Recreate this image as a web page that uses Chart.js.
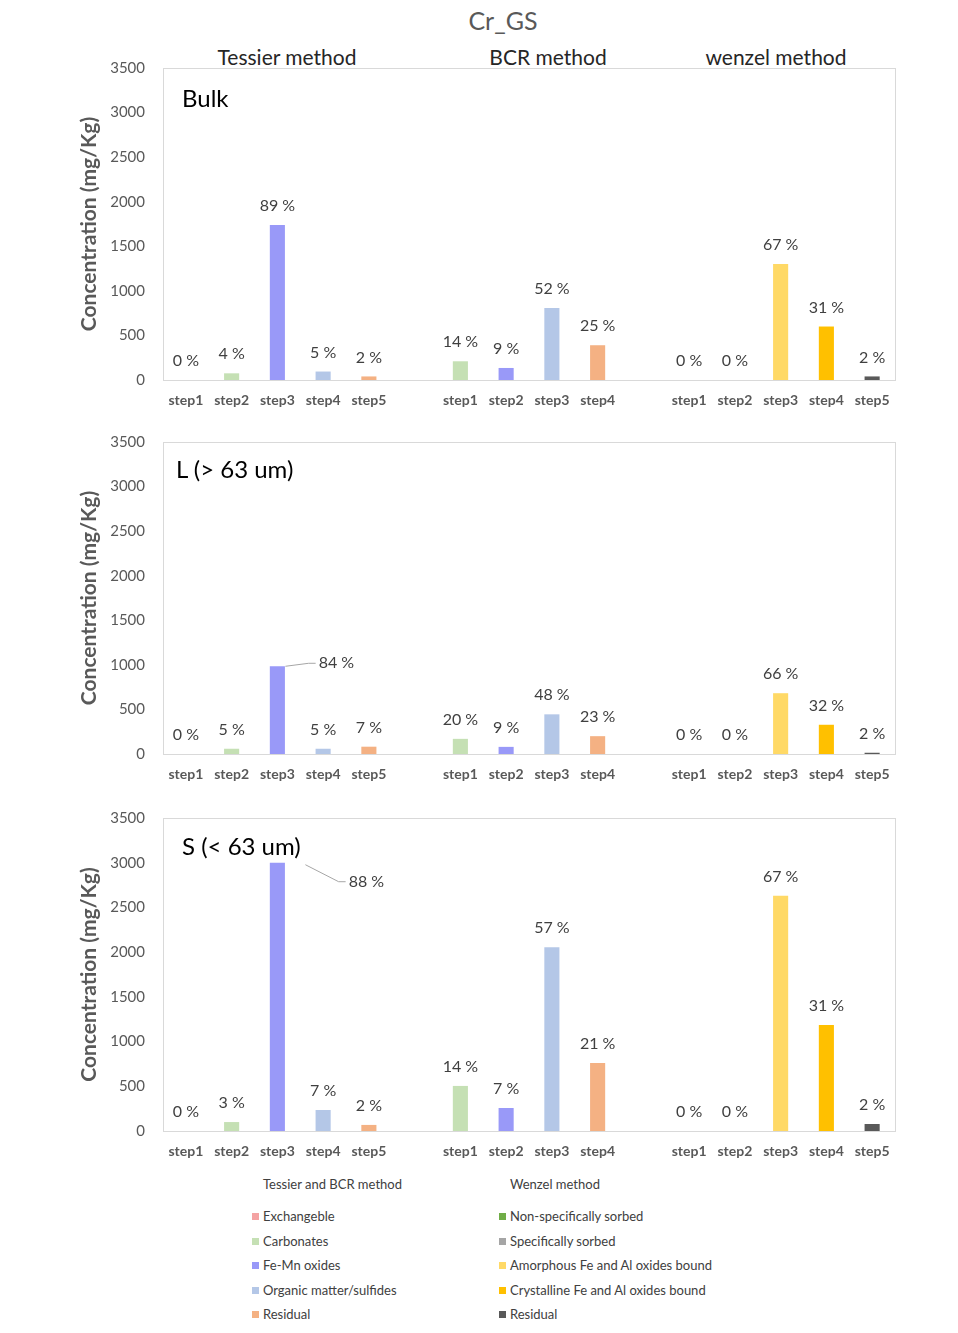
<!DOCTYPE html>
<html>
<head>
<meta charset="utf-8">
<script src="https://cdn.jsdelivr.net/npm/chart.js@4.4.0/dist/chart.umd.min.js"></script>
<style>
body{margin:0;background:#fff;font-family:Lato,sans-serif;}
#page{position:relative;width:958px;height:1333px;overflow:hidden;}
canvas{position:absolute;left:0;}
.t{position:absolute;white-space:nowrap;transform:translate(-50%,-50%);}
.l{position:absolute;white-space:nowrap;transform:translateY(-50%);}
.head{font-size:21px;color:#262626;}
.panel{font-size:24px;color:#000;}
.leg{font-size:13px;color:#404040;}
.sq{display:inline-block;width:7px;height:7px;margin-right:4px;vertical-align:1px;}
</style>
</head>
<body>
<div id="page">
  <div class="t" style="left:503px;top:20px;font-size:25px;color:#595959;">Cr_GS</div>
  <div class="t head" style="left:287px;top:56px;">Tessier method</div>
  <div class="t head" style="left:548px;top:56px;">BCR method</div>
  <div class="t head" style="left:776px;top:56px;">wenzel method</div>

  <canvas id="bulk" width="958" height="415" style="top:0px"></canvas>
  <canvas id="large" width="958" height="375" style="top:415px"></canvas>
  <canvas id="small" width="958" height="380" style="top:790px"></canvas>

  <div class="l panel" style="left:182px;top:97px;">Bulk</div>
  <div class="l panel" style="left:176px;top:468px;">L (&gt; 63 um)</div>
  <div class="l panel" style="left:182px;top:845px;">S (&lt; 63 um)</div>

  <div id="legend"></div>
</div>
<script>
'use strict'

// x categories: Tessier 5 steps, gap, BCR 4 steps, gap, Wenzel 5 steps
const steps = ['step1','step2','step3','step4','step5','','step1','step2','step3','step4','','step1','step2','step3','step4','step5']

// concentrations (mg/Kg)
const bulkValues  = [0, 75, 1740, 95, 40, null, 210, 135, 808, 390, null, 0, 0, 1300, 600, 40]
const largeValues = [0, 59, 984, 59, 82, null, 170, 80, 445, 200, null, 0, 0, 682, 328, 14]
const smallValues = [0, 100, 3000, 235, 68, null, 504, 257, 2055, 760, null, 0, 0, 2630, 1185, 78]

// percentage labels
const bulkPct  = [0, 4, 89, 5, 2, null, 14, 9, 52, 25, null, 0, 0, 67, 31, 2]
const largePct = [0, 5, 84, 5, 7, null, 20, 9, 48, 23, null, 0, 0, 66, 32, 2]
const smallPct = [0, 3, 88, 7, 2, null, 14, 7, 57, 21, null, 0, 0, 67, 31, 2]

const barColors = ['#f4a3a3','#c5e0b4','#9999f8','#b4c7e7','#f4b183','',
                   '#c5e0b4','#9999f8','#b4c7e7','#f4b183','',
                   '#70ad47','#a5a5a5','#ffd966','#ffc000','#595959']

const tessierLegend = ['Exchangeble','Carbonates','Fe-Mn oxides','Organic matter/sulfides','Residual']
const tessierLegendColors = ['#f4a3a3','#c5e0b4','#9999f8','#b4c7e7','#f4b183']
const wenzelLegend = ['Non-specifically sorbed','Specifically sorbed','Amorphous Fe and Al oxides bound','Crystalline Fe and Al oxides bound','Residual']
const wenzelLegendColors = ['#70ad47','#a5a5a5','#ffd966','#ffc000','#595959']

Chart.defaults.font.family = 'Lato'

const plotBox = {
  id: 'plotBox',
  beforeDraw(chart) {
    const a = chart.chartArea
    const ctx = chart.ctx
    ctx.save()
    ctx.strokeStyle = '#d9d9d9'
    ctx.lineWidth = 1
    ctx.strokeRect(Math.round(a.left) + 0.5, Math.round(a.top) + 0.5, Math.round(a.right - a.left), Math.round(a.bottom - a.top))
    ctx.restore()
  }
}

const pctLabels = {
  id: 'pctLabels',
  afterDatasetsDraw(chart, args, opts) {
    const ctx = chart.ctx
    const meta = chart.getDatasetMeta(0)
    ctx.save()
    ctx.font = '16px Lato'
    ctx.fillStyle = '#404040'
    ctx.textAlign = 'center'
    ctx.textBaseline = 'middle'
    meta.data.forEach((bar, i) => {
      const p = opts.pct[i]
      if (p == null) return
      const text = p + ' %'
      let x = bar.x
      let y = bar.y - 19
      const c = opts.callout
      if (c && c.index === i) {
        x = bar.x + c.dx
        y = bar.y + c.dy
        const w = ctx.measureText(text).width
        ctx.strokeStyle = '#a6a6a6'
        ctx.beginPath()
        ctx.moveTo(bar.x + c.from, bar.y + c.fromDy)
        ctx.lineTo(x - w / 2 - 10, y)
        ctx.lineTo(x - w / 2 - 3, y)
        ctx.stroke()
      }
      ctx.fillText(text, x, y)
    })
    ctx.restore()
  }
}

function makePanel(id, values, pct, top, axisH, callout) {
  return new Chart(document.getElementById(id), {
    type: 'bar',
    data: {
      labels: steps,
      datasets: [{
        data: values,
        backgroundColor: barColors,
        barPercentage: 0.33,
        categoryPercentage: 1
      }]
    },
    options: {
      responsive: false,
      animation: false,
      layout: { padding: { left: 70, right: 63, top: top, bottom: 0 } },
      plugins: {
        legend: { display: false },
        tooltip: { enabled: false },
        pctLabels: { pct: pct, callout: callout }
      },
      scales: {
        x: {
          grid: { display: false, drawTicks: false },
          border: { display: false },
          ticks: { color: '#595959', font: { size: 14, weight: 'bold' }, padding: 12, maxRotation: 0, autoSkip: false },
          afterFit(s) { s.height = axisH }
        },
        y: {
          min: 0,
          max: 3500,
          grid: { display: false, drawTicks: false },
          border: { display: false },
          ticks: { stepSize: 500, color: '#595959', font: { size: 15 }, padding: 18, callback: v => String(v) },
          title: {
            display: true,
            text: 'Concentration (mg/Kg)',
            color: '#595959',
            font: { size: 21, weight: 'bold' },
            padding: { top: 7, bottom: 0 }
          },
          afterFit(s) { s.width = 93 }
        }
      }
    },
    plugins: [plotBox, pctLabels]
  })
}

makePanel('bulk', bulkValues, bulkPct, 68, 35, null)
makePanel('large', largeValues, largePct, 26, 36, { index: 2, dx: 59, dy: -3, from: 8, fromDy: 0 })
makePanel('small', smallValues, smallPct, 28, 39, { index: 2, dx: 89, dy: 19, from: 28, fromDy: 2 })

// legend
const legend = document.getElementById('legend')
function addText(cls, html, left, top) {
  const d = document.createElement('div')
  d.className = cls
  d.style.left = left + 'px'
  d.style.top = top + 'px'
  d.innerHTML = html
  legend.appendChild(d)
}
addText('l leg', 'Tessier and BCR method', 263, 1184)
addText('l leg', 'Wenzel method', 510, 1184)
tessierLegend.forEach((name, i) => {
  addText('l leg', '<span class="sq" style="background:' + tessierLegendColors[i] + '"></span>' + name, 252, 1216 + i * 24.5)
})
wenzelLegend.forEach((name, i) => {
  addText('l leg', '<span class="sq" style="background:' + wenzelLegendColors[i] + '"></span>' + name, 499, 1216 + i * 24.5)
})
</script>
</body>
</html>
